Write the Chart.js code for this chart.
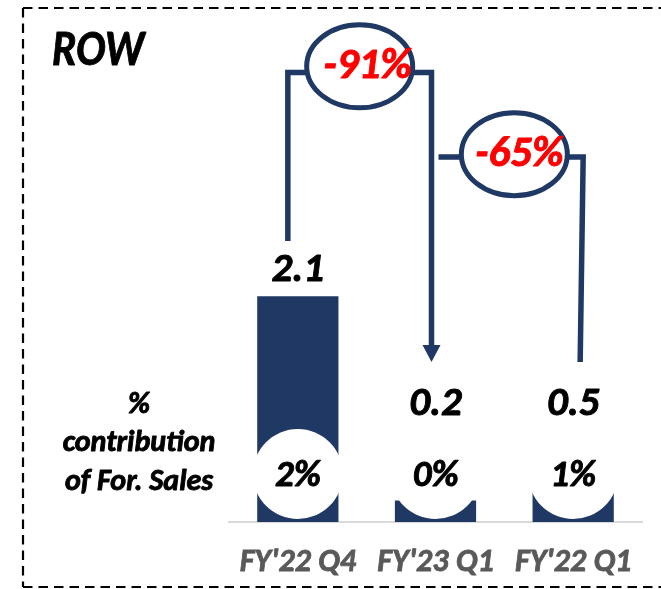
<!DOCTYPE html>
<html>
<head>
<meta charset="utf-8">
<script src="https://cdn.jsdelivr.net/npm/chart.js@4.4.1/dist/chart.umd.min.js"></script>
<style>
  html, body { margin: 0; padding: 0; background: #fff; }
</style>
</head>
<body>
<canvas id="chart" width="661" height="589"></canvas>
<script>
// data
const categories = ["FY'22 Q4", "FY'23 Q1", "FY'22 Q1"];
const salesValues = [2.1, 0.2, 0.5];
const shareLabels = ["2%", "0%", "1%"];
const changeLabels = ["-91%", "-65%"];
const sideText = ["%", "contribution", "of For. Sales"];
const title = "ROW";

const navy = "#1F3864";
const family = "Carlito, Lato, sans-serif";
const boldItalic = (size) => `italic bold ${size}px ${family}`;

//fill + thin stroke so the text looks as heavy as the original
function heavyText(ctx, text, x, y, color, maxWidth) {
  ctx.fillStyle = color;
  ctx.strokeStyle = color;
  ctx.lineWidth = 0.9;
  ctx.lineJoin = "round";
  if (maxWidth) {
    ctx.fillText(text, x, y, maxWidth);
    ctx.strokeText(text, x, y, maxWidth);
  } else {
    ctx.fillText(text, x, y);
    ctx.strokeText(text, x, y);
  }
}

// ellipse with the change label inside
function badge(ctx, cx, cy, text, dx) {
  ctx.beginPath();
  ctx.ellipse(cx, cy, 53, 41.5, 0, 0, Math.PI * 2);
  ctx.fillStyle = "#fff";
  ctx.fill();
  ctx.lineWidth = 5;
  ctx.strokeStyle = navy;
  ctx.stroke();
  ctx.font = boldItalic(43);
  ctx.textAlign = "center";
  ctx.textBaseline = "middle";
  heavyText(ctx, text, cx + dx, cy + 1, "#FF0000");
}

const decorations = {
  id: "decorations",
  beforeDraw(chart) {
    const ctx = chart.ctx;
    ctx.save();
    //dashed frame, right side runs off the picture
    ctx.strokeStyle = "#000";
    ctx.lineWidth = 2.2;
    ctx.setLineDash([9.5, 6]);
    ctx.beginPath();
    ctx.moveTo(23, 8); ctx.lineTo(700, 8);
    ctx.moveTo(23, 8); ctx.lineTo(23, 587);
    ctx.moveTo(23, 587); ctx.lineTo(700, 587);
    ctx.stroke();
    ctx.setLineDash([]);
    //title
    ctx.font = boldItalic(50);
    ctx.textAlign = "left";
    ctx.textBaseline = "alphabetic";
    heavyText(ctx, title, 52, 65, "#000", 92);
    //left side caption
    ctx.font = boldItalic(30);
    ctx.textAlign = "center";
    const baselines = [413, 451, 490];
    sideText.forEach((t, i) => heavyText(ctx, t, 139, baselines[i], "#000"));
    ctx.restore();
  },
  afterDatasetsDraw(chart) {
    const ctx = chart.ctx;
    const bars = chart.getDatasetMeta(0).data;
    const base = chart.scales.y.getPixelForValue(0);
    const r = 45;
    const cy = base - 48;
    ctx.save();
    ctx.textAlign = "center";
    ctx.textBaseline = "middle";
    bars.forEach((bar, i) => {
      //white disc with share of foreign sales
      ctx.beginPath();
      ctx.arc(bar.x, cy, r, 0, Math.PI * 2);
      ctx.fillStyle = "#fff";
      ctx.fill();
      ctx.font = boldItalic(37);
      heavyText(ctx, shareLabels[i], bar.x, cy + 3, "#000");
      //value label, kept above the disc
      ctx.font = boldItalic(41);
      const ly = Math.min(bar.y - 26, cy - r - 24);
      heavyText(ctx, salesValues[i].toFixed(1), bar.x, ly, "#000");
    });

    const [x0, x1, x2] = bars.map(b => b.x);
    ctx.strokeStyle = navy;
    ctx.fillStyle = navy;
    ctx.lineWidth = 5.5;
    ctx.lineJoin = "miter";
    //bracket from first bar down to second bar
    const a = x0 - 10, b = x1 - 4;
    ctx.beginPath();
    ctx.moveTo(a, 241);
    ctx.lineTo(a, 72.5);
    ctx.lineTo(b, 72.5);
    ctx.lineTo(b, 346);
    ctx.stroke();
    ctx.beginPath();
    ctx.moveTo(b - 9, 345);
    ctx.lineTo(b + 9, 345);
    ctx.lineTo(b, 362);
    ctx.closePath();
    ctx.fill();
    //bracket from the arrow to third bar
    const c = x1 + 3, d = x2 + 10;
    ctx.beginPath();
    ctx.moveTo(c, 157);
    ctx.lineTo(d, 157);
    ctx.lineTo(d - 3, 362);
    ctx.stroke();

    badge(ctx, (a + b) / 2, 66.3, changeLabels[0], 8);
    badge(ctx, (c + d) / 2 + 3.5, 154.2, changeLabels[1], 5);
    ctx.restore();
  }
};

new Chart(document.getElementById("chart"), {
  type: "bar",
  plugins: [decorations],
  data: {
    labels: categories,
    datasets: [
      {
        data: salesValues,
        backgroundColor: navy,
        barPercentage: 0.59,
        categoryPercentage: 1,
      },
    ],
  },
  options: {
    responsive: false,
    animation: false,
    layout: { padding: { top: 92, left: 229, right: 19, bottom: 12 } },
    plugins: {
      legend: { display: false },
      tooltip: { enabled: false },
    },
    scales: {
      x: {
        grid: { display: false, drawTicks: false },
        border: { color: "#D9D9D9", width: 2 },
        ticks: {
          color: "#595959",
          textStrokeColor: "#595959",
          textStrokeWidth: 0.8,
          font: { family: family, size: 32, style: "italic", weight: "bold" },
          padding: 22,
          maxRotation: 0,
          autoSkip: false,
        },
        afterFit: (scale) => { scale.height = 55; },
      },
      y: {
        display: false,
        min: 0,
        max: 4,
      },
    },
  },
});
</script>
</body>
</html>
